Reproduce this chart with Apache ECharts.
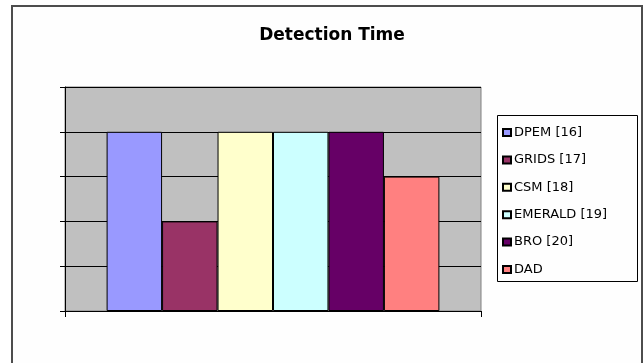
<!DOCTYPE html>
<html>
<head>
<meta charset="utf-8">
<script src="https://cdn.jsdelivr.net/npm/echarts@6/dist/echarts.min.js"></script>
<style>
  html, body { margin: 0; padding: 0; background: #ffffff; }
  #chart { width: 643px; height: 363px; }
</style>
</head>
<body>
<div id="chart"></div>
<script>
// Detection time per approach (one category, one bar per approach)
const categories = ['Detection Time'];
const seriesNames = ['DPEM [16]', 'GRIDS [17]', 'CSM [18]', 'EMERALD [19]', 'BRO [20]', 'DAD'];
const seriesValues = [4, 2, 4, 4, 4, 3];
const seriesColors = ['#9999FF', '#993366', '#FFFFCC', '#CCFFFF', '#660066', '#FF8080'];
const yTicks = [0, 1, 2, 3, 4, 5];

const chart = echarts.init(document.getElementById('chart'), null, { renderer: 'canvas' });

const series = seriesNames.map((name, i) => ({
  name: name,
  type: 'bar',
  data: [seriesValues[i]],
  barGap: '0%',
  barCategoryGap: '20%',
  itemStyle: { color: seriesColors[i], borderColor: '#000000', borderWidth: 1 },
  emphasis: { disabled: true }
}));

chart.setOption({
  animation: false,
  backgroundColor: '#ffffff',
  title: {
    text: 'Detection Time',
    left: 327,
    textAlign: 'center',
    top: 22,
    textStyle: { fontFamily: 'DejaVu Sans', fontWeight: 'bold', fontSize: 17, color: '#000000' }
  },
  graphic: [
    {
      type: 'rect', z: -10, silent: true,
      shape: { x: 12, y: 6, width: 630, height: 420 },
      style: { fill: '#fefefe', stroke: '#4d4d4d', lineWidth: 2 }
    },
    {
      type: 'rect', z: 10, silent: true,
      shape: { x: 497.5, y: 115.5, width: 140, height: 166 },
      style: { fill: 'none', stroke: '#000000', lineWidth: 1 }
    }
  ],
  legend: {
    orient: 'vertical',
    left: 502,
    top: 125.5,
    padding: 0,
    itemWidth: 8,
    itemHeight: 7,
    itemGap: 13.4,
    icon: 'rect',
    textStyle: { fontFamily: 'DejaVu Sans', fontSize: 13, color: '#000000', lineHeight: 14, padding: [0, 0, 0, -2] },
    data: seriesNames
  },
  grid: {
    left: 65, top: 87, right: 162, bottom: 52,
    show: true,
    backgroundColor: '#C0C0C0',
    borderColor: '#808080',
    borderWidth: 1
  },
  xAxis: {
    type: 'category',
    data: categories,
    boundaryGap: true,
    axisLine: { lineStyle: { color: '#000000', width: 1 } },
    axisTick: { show: true, length: 6, alignWithLabel: false, lineStyle: { color: '#000000' } },
    axisLabel: { show: false }
  },
  yAxis: {
    type: 'value',
    min: yTicks[0],
    max: yTicks[yTicks.length - 1],
    interval: 1,
    axisLine: { show: true, lineStyle: { color: '#000000', width: 1 } },
    axisTick: { show: true, length: 5, lineStyle: { color: '#000000' } },
    axisLabel: { show: false },
    splitLine: { show: true, lineStyle: { color: '#000000', width: 1 } }
  },
  series: series
});
</script>
</body>
</html>
